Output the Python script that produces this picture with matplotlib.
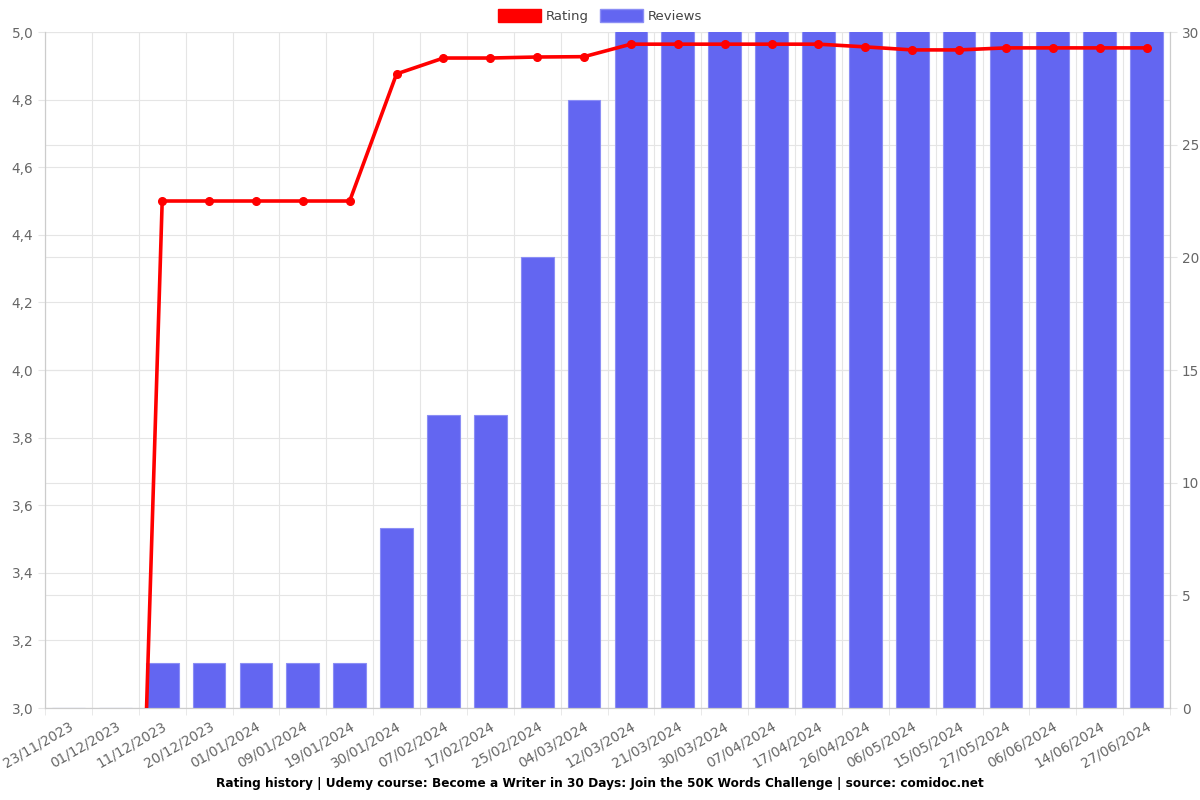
import numpy as np
import matplotlib.pyplot as plt
from matplotlib.patches import Patch

dates = ['23/11/2023', '01/12/2023', '11/12/2023', '20/12/2023', '01/01/2024',
         '09/01/2024', '19/01/2024', '30/01/2024', '07/02/2024', '17/02/2024',
         '25/02/2024', '04/03/2024', '12/03/2024', '21/03/2024', '30/03/2024',
         '07/04/2024', '17/04/2024', '26/04/2024', '06/05/2024', '15/05/2024',
         '27/05/2024', '06/06/2024', '14/06/2024', '27/06/2024']
rating = [0, 0, 4.5, 4.5, 4.5, 4.5, 4.5, 4.876, 4.923, 4.923, 4.926, 4.927,
          4.964, 4.964, 4.964, 4.964, 4.964, 4.956, 4.947, 4.947, 4.953, 4.953,
          4.953, 4.953]
# bars from 12/03 on run past the top of the axis (clipped at 30)
reviews = [0, 0, 2, 2, 2, 2, 2, 8, 13, 13, 20, 27, 31, 32, 33, 34, 35, 36,
           37, 38, 39, 40, 41, 42]

grey = '#666666'
gridc = '#e5e5e5'

fig = plt.figure(figsize=(12, 8), dpi=100)
ax = fig.add_axes([45/1200, 1-708/800, 1125/1200, 676/800])
ax2 = ax.twinx()

x = np.arange(len(dates))

# bars on the right axis, line on the left axis
ax2.bar(x, reviews, width=0.7, color='#6366f1', edgecolor='#8b8ef5', linewidth=0.8, zorder=2)
ax2.set_ylim(0, 30)
ax2.set_yticks(np.arange(0, 31, 5))

ax.set_zorder(ax2.get_zorder() + 1)
ax.patch.set_visible(False)
ax.plot(x, rating, color='#ff0000', lw=2.6, marker='o', ms=5.5, zorder=5, clip_on=True)
ax.set_ylim(3, 5)
ax.set_xlim(-0.5, len(dates) - 0.5)
ax.set_yticks(np.arange(3, 5.01, 0.2))
ax.set_yticklabels([('%.1f' % v).replace('.', ',') for v in np.arange(3, 5.01, 0.2)])

ax.set_xticks(x)
ax.set_xticklabels(dates, rotation=30, ha='right', rotation_mode='anchor')
ax.set_xticks(np.arange(-0.5, len(dates), 1), minor=True)
ax.tick_params(axis='x', which='major', length=0, pad=8)
ax.tick_params(axis='x', which='minor', length=5, color=gridc)

# grids
for v in np.arange(-0.5, len(dates), 1):
    ax2.axvline(v, color=gridc, lw=0.8, zorder=0)
for v in np.arange(3, 5.01, 0.2):
    ax2.axhline((v - 3) / 2 * 30, color=gridc, lw=0.8, zorder=0)
for v in np.arange(0, 31, 5):
    ax2.axhline(v, color=gridc, lw=0.8, zorder=0)

for a in (ax, ax2):
    a.tick_params(labelsize=9.8, colors=grey, labelcolor=grey)
    a.tick_params(axis='y', length=5, color=gridc)
    for s in a.spines.values():
        s.set_color('#cccccc')
        s.set_linewidth(0.8)
ax.spines['top'].set_visible(False)
ax2.spines['top'].set_visible(False)

handles = [Patch(facecolor='#ff0000', edgecolor='#ff0000'),
           Patch(facecolor='#6366f1', edgecolor='#8b8ef5')]
fig.legend(handles, ['Rating', 'Reviews'], loc='center', bbox_to_anchor=(0.5, 1-16/800),
           ncol=2, frameon=False, fontsize=9.5, handlelength=3.3, handleheight=1.1,
           columnspacing=0.8, handletextpad=0.35, labelcolor='#444444')

fig.text(0.5, 1-783/800, 'Rating history | Udemy course: Become a Writer in 30 Days: Join the 50K Words Challenge | source: comidoc.net',
         ha='center', va='center', fontsize=8.7, fontweight='bold')

fig.savefig('out.png', dpi=100)
